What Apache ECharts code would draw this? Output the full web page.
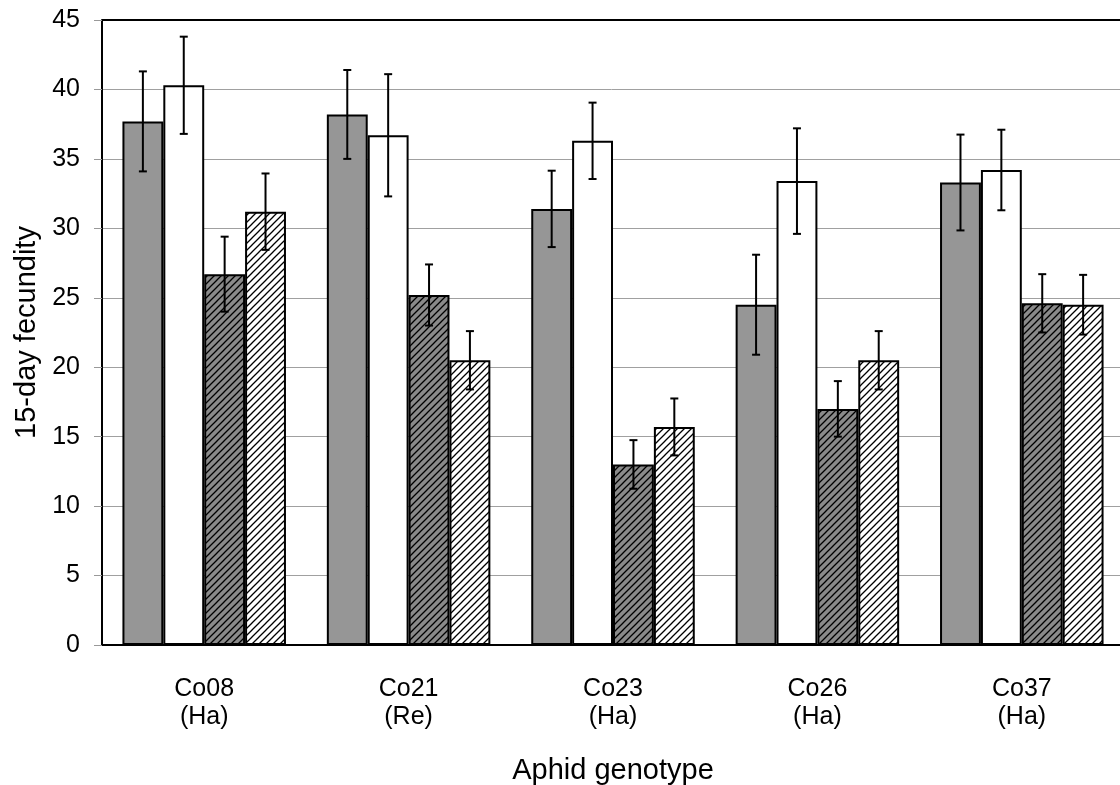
<!DOCTYPE html>
<html>
<head>
<meta charset="utf-8">
<title>15-day fecundity by aphid genotype</title>
<script src="https://cdn.jsdelivr.net/npm/echarts@6/dist/echarts.min.js"></script>
<style>
  html, body { margin: 0; padding: 0; background: #fff; }
  #chart { width: 1120px; height: 785px; }
</style>
</head>
<body>
<div id="chart"></div>
<script>
// Aphid genotypes (with clone type) on the category axis
const genotypes = ['Co08', 'Co21', 'Co23', 'Co26', 'Co37'];
const cloneTypes = ['Ha', 'Re', 'Ha', 'Ha', 'Ha'];

// Mean 15-day fecundity for the four treatments
const treatA = [37.7, 38.2, 31.4, 24.5, 33.3];
const treatB = [40.3, 36.7, 36.3, 33.4, 34.2];
const treatC = [26.7, 25.2, 13.0, 17.0, 24.6];
const treatD = [31.2, 20.5, 15.7, 20.5, 24.5];

// Error bar half-widths (± SE)
const errA = [3.6, 3.2, 2.75, 3.6, 3.45];
const errB = [3.5, 4.4, 2.75, 3.8, 2.9];
const errC = [2.7, 2.2, 1.75, 2.0, 2.1];
const errD = [2.75, 2.1, 2.05, 2.1, 2.15];

// Y axis ticks
const yMin = 0, yMax = 45, yStep = 5;

// Diagonal hatch fill on a given background
function hatch(bg) {
  const s = 7;
  const c = document.createElement('canvas');
  c.width = s; c.height = s;
  const g = c.getContext('2d');
  g.fillStyle = bg;
  g.fillRect(0, 0, s, s);
  g.strokeStyle = '#000';
  g.lineWidth = 1.3;
  g.beginPath();
  g.moveTo(-1, s + 1); g.lineTo(s + 1, -1);
  g.moveTo(-1, 1); g.lineTo(1, -1);
  g.moveTo(s - 1, s + 1); g.lineTo(s + 1, s - 1);
  g.stroke();
  return { image: c, repeat: 'repeat' };
}

const seriesDefs = [
  { name: 'A', values: treatA, errs: errA, color: '#969696' },
  { name: 'B', values: treatB, errs: errB, color: '#ffffff' },
  { name: 'C', values: treatC, errs: errC, color: hatch('#8a8a8a') },
  { name: 'D', values: treatD, errs: errD, color: hatch('#ffffff') }
];

const nBars = seriesDefs.length;
const barFrac = 0.8; // share of each category band covered by bars

const series = [];
seriesDefs.forEach(function (d) {
  series.push({
    name: d.name,
    type: 'bar',
    data: d.values,
    barGap: '0%',
    barCategoryGap: '20%',
    itemStyle: { color: d.color, borderColor: '#000', borderWidth: 2 },
    z: 2
  });
});

// Error bars drawn over the bars
seriesDefs.forEach(function (d, si) {
  series.push({
    name: d.name + ' err',
    type: 'custom',
    z: 5,
    data: d.values.map(function (v, i) { return [i, v - d.errs[i], v + d.errs[i]]; }),
    renderItem: function (params, api) {
      const band = api.size([1, 0])[0];
      const bw = band * barFrac / nBars;
      const off = (si - (nBars - 1) / 2) * bw;
      const lo = api.coord([api.value(0), api.value(1)]);
      const hi = api.coord([api.value(0), api.value(2)]);
      const x = lo[0] + off;
      const cap = 4;
      const style = { stroke: '#000', lineWidth: 2 };
      return {
        type: 'group',
        children: [
          { type: 'line', shape: { x1: x, y1: lo[1], x2: x, y2: hi[1] }, style: style },
          { type: 'line', shape: { x1: x - cap, y1: lo[1], x2: x + cap, y2: lo[1] }, style: style },
          { type: 'line', shape: { x1: x - cap, y1: hi[1], x2: x + cap, y2: hi[1] }, style: style }
        ]
      };
    }
  });
});

const gridLeft = 102, gridTop = 20, gridWidth = 1022, gridHeight = 625;

const chart = echarts.init(document.getElementById('chart'), null, { renderer: 'canvas' });
chart.setOption({
  animation: false,
  backgroundColor: '#fff',
  textStyle: { fontFamily: 'Liberation Sans, Arial, sans-serif', color: '#000' },
  grid: {
    left: gridLeft, top: gridTop, width: gridWidth, height: gridHeight,
    outerBoundsMode: 'none', containLabel: false
  },
  // top frame line of the plot area
  graphic: [{
    type: 'line',
    shape: { x1: gridLeft, y1: gridTop, x2: gridLeft + gridWidth, y2: gridTop },
    style: { stroke: '#000', lineWidth: 2 },
    z: 10
  }],
  xAxis: {
    type: 'category',
    data: genotypes.map(function (g, i) { return g + '\n(' + cloneTypes[i] + ')'; }),
    axisLine: { lineStyle: { color: '#000', width: 2 } },
    axisTick: { show: false },
    axisLabel: { fontSize: 25, color: '#000', lineHeight: 28, margin: 30 },
    name: 'Aphid genotype',
    nameLocation: 'middle',
    nameGap: 111,
    nameTextStyle: { fontSize: 29, color: '#000' }
  },
  yAxis: {
    type: 'value',
    min: yMin, max: yMax, interval: yStep,
    axisLine: { show: true, lineStyle: { color: '#000', width: 2 } },
    axisTick: { show: true, length: 8, lineStyle: { color: '#999', width: 1 } },
    axisLabel: { fontSize: 25, color: '#000', margin: 22 },
    splitLine: { lineStyle: { color: '#a0a0a0', width: 1 } },
    name: '15-day fecundity',
    nameLocation: 'middle',
    nameGap: 53,
    nameTextStyle: { fontSize: 29, color: '#000' }
  },
  series: series
});
</script>
</body>
</html>
